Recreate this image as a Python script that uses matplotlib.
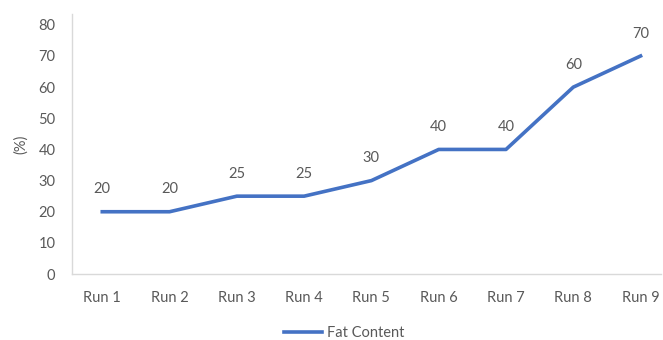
import matplotlib
matplotlib.use("Agg")
import matplotlib.pyplot as plt

runs = ["Run 1", "Run 2", "Run 3", "Run 4", "Run 5", "Run 6", "Run 7", "Run 8", "Run 9"]
fat_content = [20, 20, 25, 25, 30, 40, 40, 60, 70]
y_ticks = [0, 10, 20, 30, 40, 50, 60, 70, 80]

plt.rcParams["font.family"] = ["Lato", "DejaVu Sans"]
text_color = "#595959"
line_color = "#4472C4"
fs = 10.5

fig = plt.figure(figsize=(6.63, 3.40), dpi=100)
ax = fig.add_axes([0.1086, 0.194, 0.888, 0.765])

x = list(range(len(runs)))
ln, = ax.plot(x, fat_content, color=line_color, linewidth=2.6,
              solid_joinstyle="round", label="Fat Content")

for xi, v in zip(x, fat_content):
    ax.annotate(f"{v}", (xi, v), xytext=(0, 11), textcoords="offset points",
                ha="center", va="bottom", fontsize=fs, color=text_color)

ax.set_xlim(-0.45, 8.3)
ax.set_ylim(0, 83.5)
ax.set_xticks(x)
ax.set_xticklabels(runs)
ax.set_yticks(y_ticks)
ax.tick_params(axis="both", length=0, labelsize=fs, labelcolor=text_color)
ax.tick_params(axis="x", pad=12)
ax.tick_params(axis="y", pad=12)

for side in ("top", "right"):
    ax.spines[side].set_visible(False)
for side in ("left", "bottom"):
    ax.spines[side].set_color("#D9D9D9")
    ax.spines[side].set_linewidth(1.0)

ax.set_ylabel("(%)", fontsize=fs, color=text_color, labelpad=7)

fig.legend(handles=[ln], loc="center", bbox_to_anchor=(0.519, 0.021),
           frameon=False, fontsize=fs, labelcolor=text_color,
           handlelength=2.6, handletextpad=0.3)

fig.savefig("out.png", dpi=100)
